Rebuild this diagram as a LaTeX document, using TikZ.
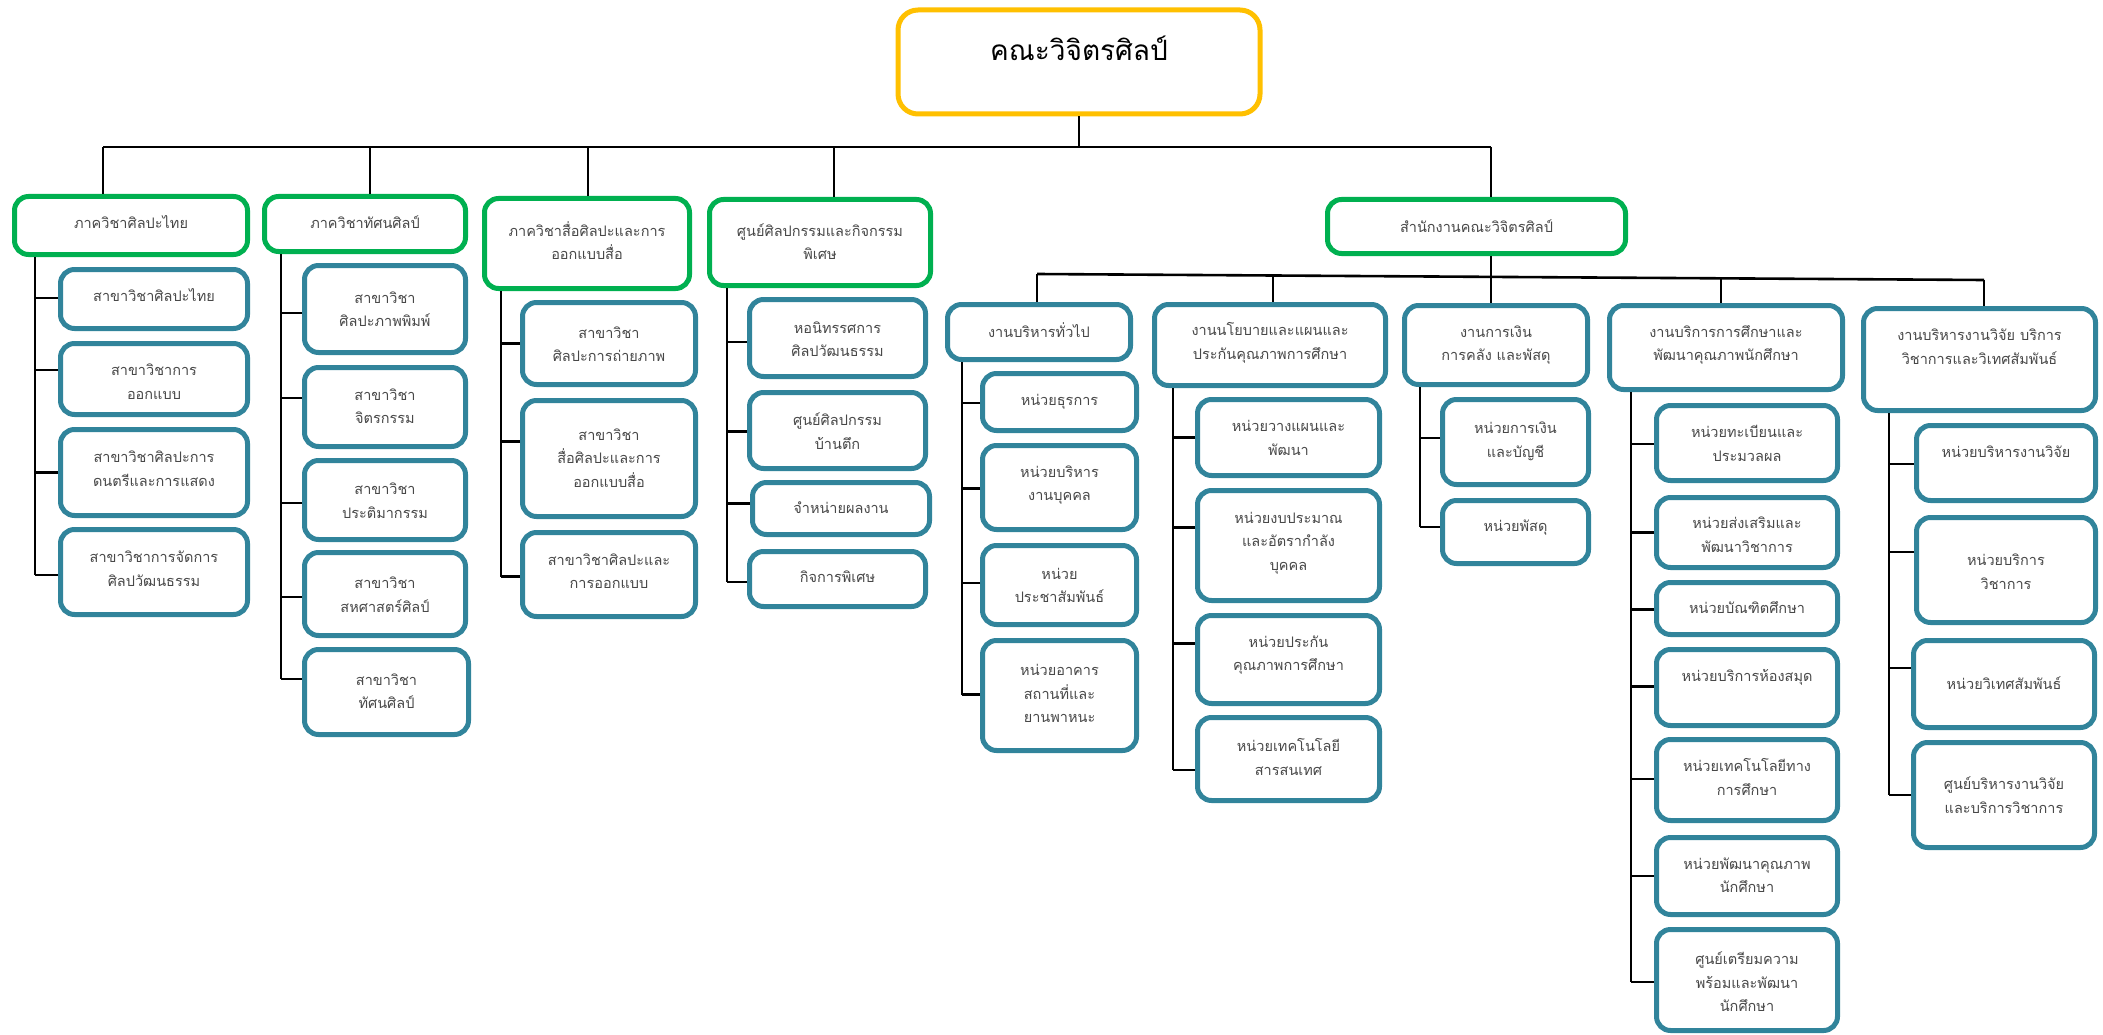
\documentclass[tikz,border=0pt]{standalone}
\usepackage{fontspec}
\newfontfamily\thai[Script=Thai]{Loma}
\definecolor{tealb}{HTML}{31849B}
\definecolor{greenb}{HTML}{00B050}
\definecolor{yellowb}{HTML}{FFC000}
\definecolor{txtgray}{HTML}{484848}
\tikzset{
  box/.style={draw, line width=5pt, rounded corners=14pt, fill=white, inner sep=0pt},
  rootbox/.style={box, draw=yellowb, rounded corners=20pt},
  deptbox/.style={box, draw=greenb},
  unitbox/.style={box, draw=tealb},
  txt/.style={font=\thai\fontsize{14.5}{23.5}\selectfont, align=center, text=txtgray, inner sep=0pt},
  link/.style={draw=black, line width=2.6pt},
}
\newcommand{\obox}[8]{%
  \node[#2, minimum width={#5-#3-5}, minimum height={#6-#4-5}] (#1) at ({(#3+#5)/2},{(#4+#6)/2}) {};
  \node[txt] (#1t) at ({(#3+#5)/2},#7) {#8};
}
\newcommand{\conn}[3]{%
  \coordinate (#2p) at ([yshift=#3]#2.west);
  \draw[link] (#2p) -- (#2p -| #1);
}
\begin{document}
\begin{tikzpicture}[x=1pt,y=-1pt]
\useasboundingbox (0,0) rectangle (2103,1035);
% ---------- top level connectors ----------
\coordinate (hubL) at (103,147);
\coordinate (hubR) at (1491,147);
\coordinate (b1) at (103,147);
\coordinate (b2) at (370,147);
\coordinate (b3) at (588,147);
\coordinate (b4) at (834,147);
\coordinate (b5) at (1491,147);
% ---------- root ----------
\node[rootbox, minimum width=362, minimum height=104] (root) at (1079,62) {};
\node[txt, text=black, font=\thai\fontsize{28}{34}\selectfont] (roott) at (1079,48) {คณะวิจิตรศิลป์};
\draw[link] (root.south) -- (root.south |- hubL);
\draw[link] (hubL) -- (hubR);
% ---------- departments ----------
\obox{p1}{deptbox}{12}{194}{250}{257}{222}{ภาควิชาศิลปะไทย}
\obox{p2}{deptbox}{262}{194}{468}{254}{222}{ภาควิชาทัศนศิลป์}
\obox{p3}{deptbox}{482}{196}{692}{291}{240.5}{ภาควิชาสื่อศิลปะและการ\\ออกแบบสื่อ}
\obox{p4}{deptbox}{707}{197}{933}{288}{241.5}{ศูนย์ศิลปกรรมและกิจกรรม\\พิเศษ}
\obox{po}{deptbox}{1325}{197}{1628}{256}{226}{สำนักงานคณะวิจิตรศิลป์}
\draw[link] (b1) -- (b1 |- p1.north);
\draw[link] (b2) -- (b2 |- p2.north);
\draw[link] (b3) -- (b3 |- p3.north);
\draw[link] (b4) -- (b4 |- p4.north);
\draw[link] (b5) -- (b5 |- po.north);
% ---------- p1 children ----------
\obox{c1}{unitbox}{58}{267}{250}{331}{295}{สาขาวิชาศิลปะไทย}
\obox{c2}{unitbox}{58}{341}{250}{417}{381.5}{สาขาวิชาการ\\ออกแบบ}
\obox{c3}{unitbox}{58}{427}{250}{518}{468.5}{สาขาวิชาศิลปะการ\\ดนตรีและการแสดง}
\obox{c4}{unitbox}{58}{527}{250}{617}{568.5}{สาขาวิชาการจัดการ\\ศิลปวัฒนธรรม}
\coordinate (t1) at (35,257);
\conn{t1}{c1}{1}\conn{t1}{c2}{9}\conn{t1}{c3}{0}\conn{t1}{c4}{-3}
\draw[link] (t1) -- (t1 |- c4p);
% ---------- p2 children ----------
\obox{d1}{unitbox}{302}{263}{468}{355}{309}{สาขาวิชา\\ศิลปะภาพพิมพ์}
\obox{d2}{unitbox}{302}{365}{468}{449}{406}{สาขาวิชา\\จิตรกรรม}
\obox{d3}{unitbox}{302}{458}{468}{542}{500.5}{สาขาวิชา\\ประติมากรรม}
\obox{d4}{unitbox}{302}{550}{468}{638}{594.5}{สาขาวิชา\\สหศาสตร์ศิลป์}
\obox{d5}{unitbox}{302}{647}{471}{737}{691}{สาขาวิชา\\ทัศนศิลป์}
\coordinate (t2) at (281,254);
\conn{t2}{d1}{-4}\conn{t2}{d2}{9}\conn{t2}{d3}{-3}\conn{t2}{d4}{-3}\conn{t2}{d5}{13}
\draw[link] (t2) -- (t2 |- d5p);
% ---------- p3 children ----------
\obox{e1}{unitbox}{520}{300}{698}{387}{344}{สาขาวิชา\\ศิลปะการถ่ายภาพ}
\obox{e2}{unitbox}{520}{398}{698}{519}{458}{สาขาวิชา\\สื่อศิลปะและการ\\ออกแบบสื่อ}
\obox{e3}{unitbox}{520}{530}{698}{619}{571}{สาขาวิชาศิลปะและ\\การออกแบบ}
\coordinate (t3) at (501,291);
\conn{t3}{e1}{0}\conn{t3}{e2}{17}\conn{t3}{e3}{-2}
\draw[link] (t3) -- (t3 |- e3p);
% ---------- p4 children ----------
\obox{f1}{unitbox}{747}{297}{928}{379}{339}{หอนิทรรศการ\\ศิลปวัฒนธรรม}
\obox{f2}{unitbox}{747}{390}{928}{471}{431}{ศูนย์ศิลปกรรม\\บ้านตึก}
\obox{f3}{unitbox}{750}{480}{932}{537}{508}{จำหน่ายผลงาน}
\obox{f4}{unitbox}{747}{549}{928}{609}{577}{กิจการพิเศษ}
\coordinate (t4) at (727,288);
\conn{t4}{f1}{-4}\conn{t4}{f2}{-1}\conn{t4}{f3}{5}\conn{t4}{f4}{-3}
\draw[link] (t4) -- (t4 |- f4p);
% ---------- office level 2 ----------
\coordinate (sL) at (1037,274);
\coordinate (sR) at (1984,280);
\coordinate (s2) at (1273,275.5);
\coordinate (s3) at (1491,276.9);
\coordinate (s4) at (1721,278.3);
\draw[link] (sL) -- (sR);
\draw[link] (po.south -| s3) -- (s3);
\obox{g}{unitbox}{945}{302}{1133}{362}{330}{งานบริหารทั่วไป}
\obox{h}{unitbox}{1152}{302}{1388}{388}{343}{งานนโยบายและแผนและ\\ประกันคุณภาพการศึกษา}
\obox{i}{unitbox}{1402}{303}{1590}{387}{345}{งานการเงิน\\การคลัง และพัสดุ}
\obox{j}{unitbox}{1607}{303}{1845}{392}{345}{งานบริการการศึกษาและ\\พัฒนาคุณภาพนักศึกษา}
\obox{k}{unitbox}{1861}{306}{2098}{413}{346.5}{งานบริหารงานวิจัย บริการ\\วิชาการและวิเทศสัมพันธ์}
\draw[link] (sL) -- (sL |- g.north);
\draw[link] (s2) -- (s2 |- h.north);
\draw[link] (s3) -- (s3 |- i.north);
\draw[link] (s4) -- (s4 |- j.north);
\draw[link] (sR) -- (sR |- k.north);
% ---------- g children ----------
\obox{g1}{unitbox}{980}{371}{1139}{433}{402}{หน่วยธุรการ}
\obox{g2}{unitbox}{980}{443}{1139}{532}{485}{หน่วยบริหาร\\งานบุคคล}
\obox{g3}{unitbox}{980}{543}{1139}{627}{585.5}{หน่วย\\ประชาสัมพันธ์}
\obox{g4}{unitbox}{980}{638}{1139}{753}{693.5}{หน่วยอาคาร\\สถานที่และ\\ยานพาหนะ}
\coordinate (tg) at (962,362);
\conn{tg}{g1}{-1}\conn{tg}{g2}{-1}\conn{tg}{g3}{2}\conn{tg}{g4}{1}
\draw[link] (tg) -- (tg |- g4p);
% ---------- h children ----------
\obox{h1}{unitbox}{1195}{397}{1382}{478}{438}{หน่วยวางแผนและ\\พัฒนา}
\obox{h2}{unitbox}{1195}{488}{1382}{603}{543}{หน่วยงบประมาณ\\และอัตรากำลัง\\บุคคล}
\obox{h3}{unitbox}{1195}{613}{1382}{706}{655}{หน่วยประกัน\\คุณภาพการศึกษา}
\obox{h4}{unitbox}{1195}{715}{1382}{803}{757}{หน่วยเทคโนโลยี\\สารสนเทศ}
\coordinate (th) at (1173,388);
\conn{th}{h1}{0}\conn{th}{h2}{18}\conn{th}{h3}{16}\conn{th}{h4}{-11}
\draw[link] (th) -- (th |- h4p);
% ---------- i children ----------
\obox{i1}{unitbox}{1440}{397}{1591}{487}{441.5}{หน่วยการเงิน\\และบัญชี}
\obox{i2}{unitbox}{1440}{498}{1591}{566}{528}{หน่วยพัสดุ}
\coordinate (ti) at (1420,387);
\conn{ti}{i1}{4}\conn{ti}{i2}{5}
\draw[link] (ti) -- (ti |- i2p);
% ---------- j children ----------
\obox{j1}{unitbox}{1654}{403}{1840}{483}{443.5}{หน่วยทะเบียนและ\\ประมวลผล}
\obox{j2}{unitbox}{1654}{495}{1840}{570}{534.5}{หน่วยส่งเสริมและ\\พัฒนาวิชาการ}
\obox{j3}{unitbox}{1654}{580}{1840}{637}{608}{หน่วยบัณฑิตศึกษา}
\obox{j4}{unitbox}{1654}{647}{1840}{728}{677}{หน่วยบริการห้องสมุด}
\obox{j5}{unitbox}{1654}{737}{1840}{823}{777}{หน่วยเทคโนโลยีทาง\\การศึกษา}
\obox{j6}{unitbox}{1654}{835}{1840}{917}{875}{หน่วยพัฒนาคุณภาพ\\นักศึกษา}
\obox{j7}{unitbox}{1654}{927}{1840}{1033}{982}{ศูนย์เตรียมความ\\พร้อมและพัฒนา\\นักศึกษา}
\coordinate (tj) at (1631,392);
\conn{tj}{j1}{-1}\conn{tj}{j2}{0}\conn{tj}{j3}{-1}\conn{tj}{j4}{1}\conn{tj}{j5}{1}\conn{tj}{j6}{0}\conn{tj}{j7}{-2}
\draw[link] (tj) -- (tj |- j7p);
% ---------- k children ----------
\obox{k1}{unitbox}{1914}{423}{2098}{503}{452}{หน่วยบริหารงานวิจัย}
\obox{k2}{unitbox}{1914}{515}{2098}{625}{571.5}{หน่วยบริการ\\วิชาการ}
\obox{k3}{unitbox}{1911}{638}{2097}{730}{683}{หน่วยวิเทศสัมพันธ์}
\obox{k4}{unitbox}{1911}{740}{2097}{850}{795}{ศูนย์บริหารงานวิจัย\\และบริการวิชาการ}
\coordinate (tk) at (1889,413);
\conn{tk}{k1}{-1}\conn{tk}{k2}{18}\conn{tk}{k3}{16}\conn{tk}{k4}{0}
\draw[link] (tk) -- (tk |- k4p);
\end{tikzpicture}
\end{document}
